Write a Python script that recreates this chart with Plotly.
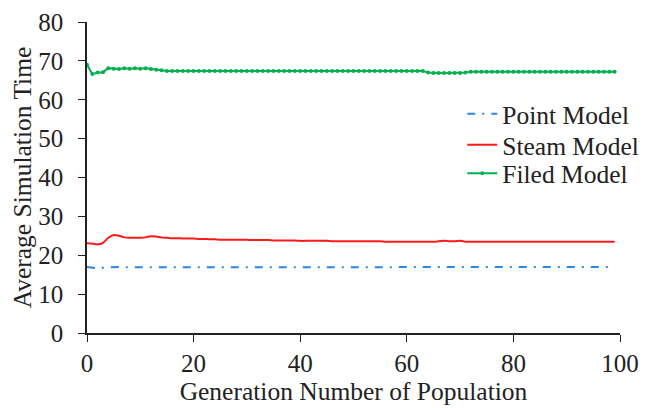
import plotly.graph_objects as go

generations = list(range(100))

point_model = [17.0, 16.8, 16.6, 16.8, 16.9, 16.9, 17.0, 16.9, 16.9, 16.9,
               16.9, 16.9, 16.9, 16.9, 16.8, 16.8, 16.8, 16.8, 16.8, 16.8,
               16.8, 16.8, 16.8, 16.8, 16.8, 16.8, 16.8, 16.8, 16.9, 16.9,
               16.9, 16.9, 16.9, 16.9, 16.9, 16.9, 16.9, 16.9, 16.9, 16.9,
               16.9, 16.9, 16.9, 16.9, 16.9, 16.9, 16.9, 16.9, 16.9, 16.8,
               16.8, 16.8, 16.8, 16.9, 16.9, 16.9, 16.9, 16.9, 17.0, 17.0,
               17.0, 17.0, 17.0, 17.0, 17.0, 17.0, 17.0, 17.0, 17.0, 17.0,
               17.0, 17.0, 17.0, 17.0, 17.0, 17.0, 17.0, 16.9, 16.9, 16.9,
               16.9, 16.9, 16.9, 16.9, 17.0, 17.0, 17.0, 17.0, 17.0, 17.0,
               17.0, 17.0, 17.0, 17.0, 17.0, 17.0, 17.0, 17.0, 17.0, 17.0]

steam_model = [23.1, 23.0, 22.8, 23.2, 24.5, 25.2, 25.0, 24.6, 24.5, 24.5,
               24.5, 24.6, 24.9, 24.8, 24.6, 24.5, 24.4, 24.4, 24.3, 24.3,
               24.3, 24.2, 24.2, 24.1, 24.1, 24.0, 24.0, 24.0, 24.0, 24.0,
               24.0, 23.9, 23.9, 23.9, 23.9, 23.8, 23.8, 23.8, 23.8, 23.8,
               23.7, 23.7, 23.7, 23.7, 23.7, 23.7, 23.6, 23.6, 23.6, 23.6,
               23.6, 23.6, 23.6, 23.6, 23.6, 23.6, 23.5, 23.5, 23.5, 23.5,
               23.5, 23.5, 23.5, 23.5, 23.5, 23.5, 23.6, 23.7, 23.6, 23.6,
               23.7, 23.5, 23.5, 23.5, 23.5, 23.5, 23.5, 23.5, 23.5, 23.5,
               23.5, 23.5, 23.5, 23.5, 23.5, 23.5, 23.5, 23.5, 23.5, 23.5,
               23.5, 23.5, 23.5, 23.5, 23.5, 23.5, 23.5, 23.5, 23.5, 23.5]

filed_model = [69.0, 66.6, 67.0, 67.1, 68.1, 68.0, 67.9, 68.1, 68.0, 68.1,
               68.0, 68.1, 67.9, 67.7, 67.6, 67.4, 67.4, 67.4, 67.4, 67.4,
               67.4, 67.4, 67.4, 67.4, 67.4, 67.4, 67.4, 67.4, 67.4, 67.4,
               67.4, 67.4, 67.4, 67.4, 67.4, 67.4, 67.4, 67.4, 67.4, 67.4,
               67.4, 67.4, 67.4, 67.4, 67.4, 67.4, 67.4, 67.4, 67.4, 67.4,
               67.4, 67.4, 67.4, 67.4, 67.4, 67.4, 67.4, 67.4, 67.4, 67.4,
               67.4, 67.4, 67.4, 67.4, 67.0, 66.9, 66.9, 66.9, 66.9, 66.9,
               66.9, 67.0, 67.2, 67.2, 67.2, 67.2, 67.2, 67.2, 67.2, 67.2,
               67.2, 67.2, 67.2, 67.2, 67.2, 67.2, 67.2, 67.2, 67.2, 67.2,
               67.2, 67.2, 67.2, 67.2, 67.2, 67.2, 67.2, 67.2, 67.2, 67.2]

x_ticks = [0, 20, 40, 60, 80, 100]
y_ticks = [0, 10, 20, 30, 40, 50, 60, 70, 80]

FONT = "Liberation Serif"
INK = "#222222"
TICK_SIZE = 25
TITLE_SIZE = 25.5
LEGEND_SIZE = 25.5

fig = go.Figure()
fig.add_trace(go.Scatter(x=generations, y=point_model, mode="lines", name="Point Model",
                         legend="legend",
                         line=dict(color="#2e86de", width=2, dash="8px,7px,2px,7px")))
fig.add_trace(go.Scatter(x=generations, y=steam_model, mode="lines", name="Steam Model",
                         legend="legend2",
                         line=dict(color="#ff1a1a", width=2, shape="spline")))
fig.add_trace(go.Scatter(x=generations, y=filed_model, mode="lines+markers", name="Filed Model",
                         legend="legend3",
                         line=dict(color="#00b050", width=2),
                         marker=dict(color="#00b050", size=4)))

def legend_box(ypos):
    return dict(x=0.704, y=ypos, xanchor="left", yanchor="middle",
                bgcolor="rgba(0,0,0,0)",
                font=dict(family=FONT, size=LEGEND_SIZE, color=INK),
                itemwidth=30)

fig.update_layout(
    width=648, height=400,
    margin=dict(l=79, r=36, t=14, b=75, autoexpand=False),
    paper_bgcolor="white", plot_bgcolor="white",
    font=dict(family=FONT, size=TICK_SIZE, color=INK),
    showlegend=True,
    legend=legend_box(0.704),
    legend2=legend_box(0.604),
    legend3=legend_box(0.512),
    xaxis=dict(range=[0, 100], tickvals=x_ticks, showgrid=False, zeroline=False,
               showline=True, linecolor=INK, linewidth=1.5,
               ticks="outside", ticklen=7, tickcolor=INK, automargin=False,
               ticklabelstandoff=0, ticklabeloverflow="allow",
               tickfont=dict(family=FONT, size=TICK_SIZE, color=INK),
               title=dict(text="Generation Number of Population", standoff=5,
                          font=dict(family=FONT, size=TITLE_SIZE, color=INK))),
    yaxis=dict(range=[0, 80], tickvals=y_ticks, showgrid=False, zeroline=False,
               showline=True, linecolor=INK, linewidth=1.5,
               ticks="outside", ticklen=7, tickcolor=INK, automargin=False,
               ticklabelstandoff=10, ticklabeloverflow="allow",
               tickfont=dict(family=FONT, size=TICK_SIZE, color=INK),
               title=dict(text="Average Simulation Time", standoff=2,
                          font=dict(family=FONT, size=TITLE_SIZE, color=INK))),
)

fig.write_html("out.html")
